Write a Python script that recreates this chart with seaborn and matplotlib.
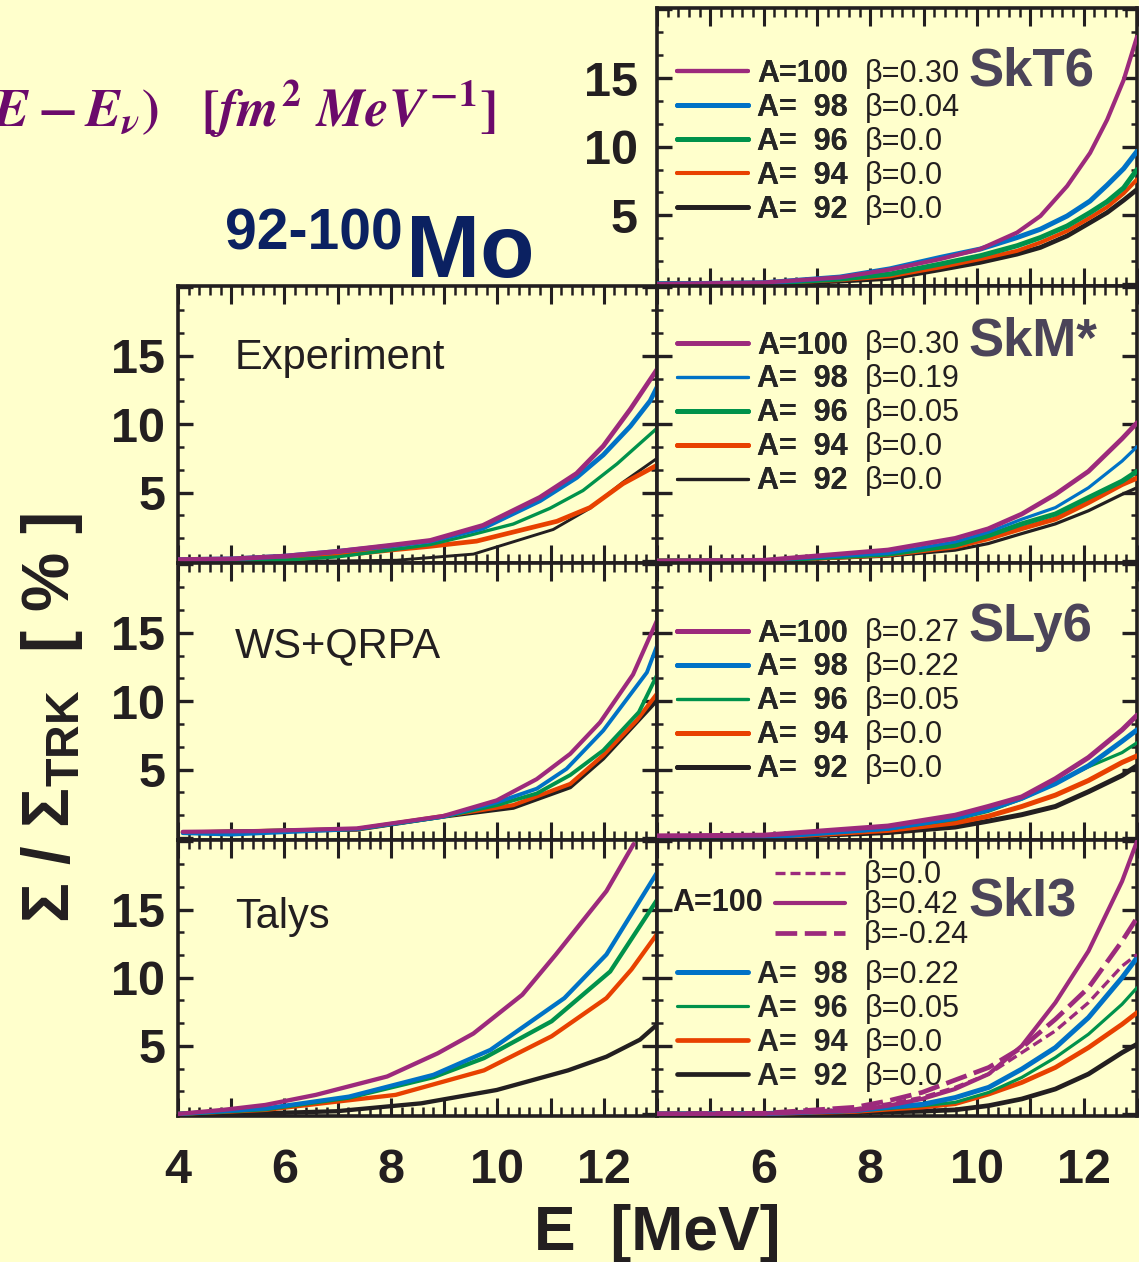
import matplotlib
matplotlib.use("Agg")
import matplotlib.pyplot as plt
import seaborn as sns
from matplotlib.ticker import MultipleLocator, AutoMinorLocator, FuncFormatter

# ---- data (E in MeV, sum rule fraction in %) ----
exp_e_100 = [4.0, 5.0, 6.0, 7.0, 8.0, 8.74, 9.73, 10.8, 11.49, 11.99, 12.5, 13.0]
exp_s_100 = [0.1, 0.15, 0.35, 0.7, 1.15, 1.5, 2.6, 4.65, 6.4, 8.4, 11.1, 14.0]
exp_e_98 = [4.0, 5.0, 6.0, 7.0, 8.0, 8.74, 9.73, 10.8, 11.49, 11.99, 12.5, 12.87, 13.0]
exp_s_98 = [0.1, 0.15, 0.35, 0.7, 1.1, 1.45, 2.4, 4.4, 6.1, 7.75, 9.85, 11.7, 12.7]
exp_e_96 = [4.0, 5.0, 6.0, 7.0, 8.0, 8.74, 9.5, 10.3, 10.99, 11.61, 12.25, 13.0]
exp_s_96 = [0.0, 0.0, 0.05, 0.3, 0.8, 1.2, 1.9, 2.7, 3.85, 5.15, 7.1, 9.7]
exp_e_94 = [4.0, 5.0, 6.0, 7.0, 8.0, 8.74, 9.61, 11.12, 11.74, 12.36, 13.0]
exp_s_94 = [0.0, 0.0, 0.1, 0.4, 0.8, 1.07, 1.45, 2.9, 3.9, 5.65, 7.0]
exp_e_92 = [4.0, 7.0, 8.11, 9.55, 11.05, 11.74, 12.36, 13.0]
exp_s_92 = [0.0, 0.0, 0.05, 0.5, 2.3, 3.85, 5.75, 7.5]

ws_e_100 = [4.09, 5.5, 7.36, 8.98, 9.99, 10.74, 11.37, 11.93, 12.55, 13.0]
ws_s_100 = [0.45, 0.5, 0.7, 1.6, 2.75, 4.3, 6.15, 8.45, 11.95, 15.9]
ws_e_98 = [4.09, 5.0, 7.36, 8.98, 9.99, 10.74, 11.3, 11.99, 12.81, 13.0]
ws_s_98 = [0.35, 0.25, 0.65, 1.55, 2.6, 3.6, 5.05, 7.85, 12.1, 14.05]
ws_e_96 = [4.09, 7.36, 8.98, 9.99, 10.74, 11.37, 11.99, 12.66, 13.0]
ws_s_96 = [0.4, 0.65, 1.55, 2.4, 3.25, 4.6, 6.4, 9.2, 11.9]
ws_e_94 = [4.09, 7.36, 8.98, 10.3, 11.37, 11.99, 12.62, 13.0]
ws_s_94 = [0.4, 0.65, 1.6, 2.4, 3.95, 6.05, 8.6, 10.55]
ws_e_92 = [4.09, 7.36, 8.98, 10.3, 11.37, 11.99, 12.62, 13.0]
ws_s_92 = [0.4, 0.6, 1.55, 2.2, 3.7, 5.8, 8.45, 10.05]

ta_e_100 = [4.0, 4.85, 5.64, 6.59, 7.93, 8.88, 9.55, 10.47, 11.1, 12.05, 12.56]
ta_s_100 = [0.0, 0.3, 0.66, 1.4, 2.75, 4.45, 5.9, 8.75, 11.7, 16.35, 19.8]
ta_e_98 = [4.0, 5.64, 7.21, 8.8, 9.87, 11.26, 12.05, 13.0]
ta_s_98 = [0.0, 0.4, 1.27, 2.87, 4.7, 8.5, 11.7, 17.7]
ta_e_96 = [4.0, 5.64, 7.21, 8.8, 9.75, 11.02, 12.12, 13.0]
ta_s_96 = [0.0, 0.35, 1.2, 2.7, 4.1, 6.8, 10.45, 15.7]
ta_e_94 = [4.0, 5.64, 8.09, 9.75, 11.02, 12.05, 12.52, 13.0]
ta_s_94 = [0.0, 0.3, 1.4, 3.2, 5.7, 8.5, 10.6, 13.2]
ta_e_92 = [4.0, 5.64, 6.98, 8.57, 9.99, 11.33, 12.05, 12.68, 13.0]
ta_s_92 = [0.0, 0.05, 0.2, 0.78, 1.76, 3.2, 4.2, 5.45, 6.55]

skt6_e = [4.0, 6.0, 7.43, 8.37, 9.31, 10.06, 10.75, 11.19, 11.69, 12.12, 12.44, 12.75, 13.0]
skt6_100 = [0.0, 0.1, 0.48, 1.05, 1.81, 2.54, 3.74, 4.95, 7.13, 9.54, 11.96, 14.86, 18.0]
skt6_98 = [0.0, 0.08, 0.5, 1.1, 1.93, 2.54, 3.38, 3.99, 4.95, 6.04, 7.2, 8.4, 9.66]
skt6_96 = [0.0, 0.05, 0.35, 0.72, 1.45, 2.05, 2.78, 3.38, 4.22, 5.2, 6.0, 7.0, 8.33]
skt6_94 = [0.0, 0.03, 0.28, 0.56, 1.21, 1.81, 2.41, 3.02, 3.86, 4.83, 5.6, 6.6, 7.61]
skt6_92 = [0.0, 0.02, 0.2, 0.41, 1.04, 1.57, 2.17, 2.66, 3.5, 4.47, 5.2, 6.1, 6.88]

skm_e = [4.0, 6.0, 8.33, 9.59, 10.21, 10.84, 11.47, 12.09, 12.72, 13.0]
skm_100 = [0.0, 0.05, 0.8, 1.65, 2.35, 3.43, 4.87, 6.55, 8.94, 10.1]
skm_98 = [0.0, 0.02, 0.55, 1.39, 2.1, 3.05, 3.9, 5.35, 7.3, 8.35]
skm_96 = [0.0, 0.02, 0.5, 1.15, 1.85, 2.71, 3.43, 4.63, 5.83, 6.55]
skm_94 = [0.0, 0.01, 0.45, 1.03, 1.63, 2.37, 3.07, 4.27, 5.59, 6.06]
skm_92 = [0.0, 0.0, 0.35, 0.79, 1.27, 2.0, 2.71, 3.67, 4.87, 5.35]

sly6_e = [4.0, 6.0, 8.33, 9.59, 10.21, 10.84, 11.47, 12.09, 12.72, 13.0]
sly6_100 = [0.15, 0.2, 0.87, 1.66, 2.3, 3.0, 4.33, 5.88, 7.9, 8.97]
sly6_98 = [0.0, 0.05, 0.7, 1.45, 2.06, 2.9, 3.97, 5.28, 7.07, 7.9]
sly6_96 = [0.0, 0.05, 0.65, 1.35, 1.94, 2.85, 4.0, 5.2, 6.24, 6.96]
sly6_94 = [0.0, 0.03, 0.55, 1.1, 1.59, 2.3, 3.13, 4.2, 5.52, 6.0]
sly6_92 = [0.0, 0.02, 0.4, 0.8, 1.23, 1.7, 2.3, 3.38, 4.57, 5.28]

ski3_e = [4.0, 6.0, 7.71, 8.34, 8.97, 9.59, 10.22, 10.84, 11.47, 12.09, 12.72, 13.0]
ski3_100_b042 = [0.0, 0.02, 0.25, 0.61, 1.1, 1.83, 2.93, 5.0, 8.17, 11.95, 17.07, 20.0]
ski3_100_bm024 = [0.0, 0.05, 0.49, 0.97, 1.58, 2.49, 3.41, 4.87, 6.95, 9.26, 12.68, 14.38]
ski3_100_b00 = [0.0, 0.03, 0.37, 0.75, 1.22, 1.95, 2.93, 4.5, 6.1, 8.17, 10.85, 11.7]
ski3_98 = [0.0, 0.02, 0.25, 0.5, 0.7, 1.2, 1.95, 3.29, 4.87, 7.07, 10.0, 11.46]
ski3_96 = [0.0, 0.02, 0.2, 0.4, 0.6, 0.85, 1.58, 2.68, 4.14, 5.85, 8.05, 9.26]
ski3_94 = [0.0, 0.02, 0.18, 0.35, 0.5, 0.75, 1.46, 2.31, 3.41, 4.87, 6.58, 7.43]
ski3_92 = [0.0, 0.01, 0.1, 0.15, 0.2, 0.3, 0.61, 1.1, 1.83, 2.93, 4.5, 5.12]

masses = [100, 98, 96, 94, 92]
mass_labels = ["A=100", "A=  98", "A=  96", "A=  94", "A=  92"]
skt6_beta = ["β=0.30", "β=0.04", "β=0.0", "β=0.0", "β=0.0"]
skm_beta = ["β=0.30", "β=0.19", "β=0.05", "β=0.0", "β=0.0"]
sly6_beta = ["β=0.27", "β=0.22", "β=0.05", "β=0.0", "β=0.0"]
ski3_beta = ["β=0.22", "β=0.05", "β=0.0", "β=0.0"]
ski3_100_beta = ["β=0.0", "β=0.42", "β=-0.24"]

# ---- styling ----
W, H = 1139, 1262
BG = "#ffffcc"
INK = "#231f20"
colors = {100: "#9c2a7c", 98: "#0072c6", 96: "#00924b", 94: "#e84100", 92: "#231f20"}

sns.set_theme(style="ticks")
plt.rcParams["font.family"] = ["Liberation Sans", "DejaVu Sans"]
plt.rcParams["font.weight"] = "bold"
plt.rcParams["mathtext.fontset"] = "custom"
plt.rcParams["mathtext.rm"] = "Liberation Sans:bold"
plt.rcParams["mathtext.bf"] = "Liberation Sans:bold"
plt.rcParams["mathtext.it"] = "Liberation Sans:italic:bold"

fig = plt.figure(figsize=(W / 100, H / 100), dpi=100, facecolor=BG)


def px_axes(x0, y0, x1, y1):
    return fig.add_axes([x0 / W, 1 - y1 / H, (x1 - x0) / W, (y1 - y0) / H])


def even_fmt(skip4):
    def f(v, pos):
        iv = int(round(v))
        if iv % 2 == 0 and 4 <= iv <= 12 and not (skip4 and iv == 4):
            return str(iv)
        return ""
    return FuncFormatter(f)


def style_axes(ax, show_y, show_x, skip4=False, ypad=9):
    ax.set_facecolor(BG)
    ax.set_xlim(4, 13)
    ax.set_ylim(-0.15, 20.1)
    ax.xaxis.set_major_locator(MultipleLocator(1))
    ax.xaxis.set_minor_locator(MultipleLocator(0.2))
    ax.yaxis.set_major_locator(MultipleLocator(5))
    ax.yaxis.set_minor_locator(AutoMinorLocator(3))
    ax.xaxis.set_major_formatter(even_fmt(skip4))
    ax.yaxis.set_major_formatter(FuncFormatter(lambda v, p: str(int(v)) if v in (5, 10, 15) else ""))
    for s in ax.spines.values():
        s.set_linewidth(2.6)
        s.set_color(INK)
    ax.tick_params(which="both", direction="in", top=True, right=True, colors=INK)
    ax.tick_params(axis="x", which="major", length=13, width=2.2, pad=23, labelsize=35)
    ax.tick_params(axis="x", which="minor", length=6.5, width=1.8)
    ax.tick_params(axis="y", which="major", length=11, width=2.4, pad=ypad, labelsize=35)
    ax.tick_params(axis="y", which="minor", length=4.5, width=1.8)
    ax.tick_params(labelbottom=show_x, labelleft=show_y)
    ax.set_xlabel("")
    ax.set_ylabel("")


def draw(ax, e, series, widths):
    handles = {}
    for a in reversed(masses):
        if a not in series:
            continue
        e_a = e[a] if isinstance(e, dict) else e
        sns.lineplot(x=e_a, y=series[a], ax=ax, color=colors[a], linewidth=widths[a],
                     legend=False, zorder=3)
        handles[a] = ax.lines[-1]
    return handles


rows = [8, 286, 563, 840, 1116]
XL0, XM, XR1 = 178, 657, 1137

# left column
ax_exp = px_axes(XL0, rows[1], XM, rows[2])
ax_ws = px_axes(XL0, rows[2], XM, rows[3])
ax_ta = px_axes(XL0, rows[3], XM, rows[4])
# right column
ax_skt6 = px_axes(XM, rows[0], XR1, rows[1])
ax_skm = px_axes(XM, rows[1], XR1, rows[2])
ax_sly6 = px_axes(XM, rows[2], XR1, rows[3])
ax_ski3 = px_axes(XM, rows[3], XR1, rows[4])

style_axes(ax_exp, True, False)
style_axes(ax_ws, True, False)
style_axes(ax_ta, True, True)
style_axes(ax_skt6, True, False, ypad=14)
style_axes(ax_skm, False, False)
style_axes(ax_sly6, False, False)
style_axes(ax_ski3, False, True, skip4=True)

draw(ax_exp,
     {100: exp_e_100, 98: exp_e_98, 96: exp_e_96, 94: exp_e_94, 92: exp_e_92},
     {100: exp_s_100, 98: exp_s_98, 96: exp_s_96, 94: exp_s_94, 92: exp_s_92},
     {100: 3.4, 98: 3.4, 96: 2.4, 94: 3.4, 92: 2.1})
draw(ax_ws,
     {100: ws_e_100, 98: ws_e_98, 96: ws_e_96, 94: ws_e_94, 92: ws_e_92},
     {100: ws_s_100, 98: ws_s_98, 96: ws_s_96, 94: ws_s_94, 92: ws_s_92},
     {100: 3.0, 98: 2.8, 96: 2.8, 94: 3.0, 92: 2.8})
draw(ax_ta,
     {100: ta_e_100, 98: ta_e_98, 96: ta_e_96, 94: ta_e_94, 92: ta_e_92},
     {100: ta_s_100, 98: ta_s_98, 96: ta_s_96, 94: ta_s_94, 92: ta_s_92},
     {100: 3.1, 98: 3.1, 96: 3.1, 94: 3.1, 92: 3.1})

h_skt6 = draw(ax_skt6, skt6_e,
              {100: skt6_100, 98: skt6_98, 96: skt6_96, 94: skt6_94, 92: skt6_92},
              {100: 3.0, 98: 3.6, 96: 3.6, 94: 2.9, 92: 3.4})
h_skm = draw(ax_skm, skm_e,
             {100: skm_100, 98: skm_98, 96: skm_96, 94: skm_94, 92: skm_92},
             {100: 3.4, 98: 2.3, 96: 3.6, 94: 3.6, 92: 2.3})
h_sly6 = draw(ax_sly6, sly6_e,
              {100: sly6_100, 98: sly6_98, 96: sly6_96, 94: sly6_94, 92: sly6_92},
              {100: 3.6, 98: 3.6, 96: 2.3, 94: 3.6, 92: 3.6})
h_ski3 = draw(ax_ski3, ski3_e,
              {98: ski3_98, 96: ski3_96, 94: ski3_94, 92: ski3_92},
              {98: 3.6, 96: 2.3, 94: 3.4, 92: 3.4})

# the three A=100 SkI3 curves
sns.lineplot(x=ski3_e, y=ski3_100_b00, ax=ax_ski3, color=colors[100], linewidth=2.4,
             linestyle=(0, (3, 1.5)), legend=False, zorder=3)
h_b00 = ax_ski3.lines[-1]
sns.lineplot(x=ski3_e, y=ski3_100_bm024, ax=ax_ski3, color=colors[100], linewidth=3.4,
             linestyle=(0, (4.6, 1.6)), legend=False, zorder=3)
h_bm024 = ax_ski3.lines[-1]
sns.lineplot(x=ski3_e, y=ski3_100_b042, ax=ax_ski3, color=colors[100], linewidth=3.0,
             legend=False, zorder=3)
h_b042 = ax_ski3.lines[-1]

LEG = dict(loc="upper left", frameon=False, borderpad=0, borderaxespad=0,
           handlelength=2.33, handletextpad=0.3, labelspacing=0.13)

legends = []
for ax, hd, top_off, labs, betas in [
    (ax_skt6, h_skt6, 50.5, mass_labels, skt6_beta),
    (ax_skm, h_skm, 44.5, mass_labels, skm_beta),
    (ax_sly6, h_sly6, 55.5, mass_labels, sly6_beta),
    (ax_ski3, h_ski3, 120.5, mass_labels[1:], ski3_beta),
]:
    hs = [hd[a] for a in masses if a in hd]
    leg = ax.legend(hs, labs, bbox_to_anchor=(20 / 480, 1 - top_off / 277),
                    prop=dict(family="Liberation Sans", weight="bold", size=22), **LEG)
    ax.add_artist(leg)
    legends.append((leg, betas))

leg3 = ax_ski3.legend([h_b00, h_b042, h_bm024], ski3_100_beta,
                      bbox_to_anchor=(118 / 480, 1 - 20.5 / 277),
                      prop=dict(family="Liberation Sans", weight="normal", size=22),
                      loc="upper left", frameon=False, borderpad=0, borderaxespad=0,
                      handlelength=2.3, handletextpad=0.6, labelspacing=0.0)
for t in leg3.get_texts():
    t.set_color(INK)


def ftext(x, y, s, **kw):
    return fig.text(x / W, 1 - y / H, s, **kw)


# panel names
for name, base in [("SkT6", 85), ("SkM*", 355), ("SLy6", 641), ("SkI3", 915)]:
    ftext(968, base, name, fontsize=38, weight="bold", color="#4b4459", va="baseline")
for name, base in [("Experiment", 369), ("WS+QRPA", 657), ("Talys", 928)]:
    ftext(235, base, name, fontsize=30, weight="normal", color=INK, va="baseline")
ftext(672, 903, "A=100", fontsize=22, weight="bold", color=INK, va="center")

# header texts
ftext(496, 127, r"$E - E_{\nu})\quad[fm^2\ MeV^{-1}]$", fontsize=38.5, color="#6b0a6b",
      ha="right", va="baseline", math_fontfamily="stix")
ftext(225, 250, "92-100", fontsize=41, weight="bold", color="#0b2161", va="baseline")
ftext(406, 277, "Mo", fontsize=64, weight="bold", color="#0b2161", va="baseline")

# axis labels
ftext(657, 1250, "E  [MeV]", fontsize=45, weight="bold", color=INK, ha="center", va="baseline")
ftext(52, 718, r"$\mathbf{\Sigma}$ / $\mathbf{\Sigma}_{\mathbf{TRK}}$  [ % ]", fontsize=48,
      weight="bold", color=INK, rotation=90, ha="center", va="center")

# beta values next to the legend rows
fig.canvas.draw()
renderer = fig.canvas.get_renderer()
for leg, betas in legends:
    for txt, b in zip(leg.get_texts(), betas):
        bb = txt.get_window_extent(renderer)
        fig.text(865 / W, bb.y0 / H, b, fontsize=22, weight="normal", color=INK,
                 ha="left", va="bottom")

fig.savefig("out.png", dpi=100, facecolor=BG)
